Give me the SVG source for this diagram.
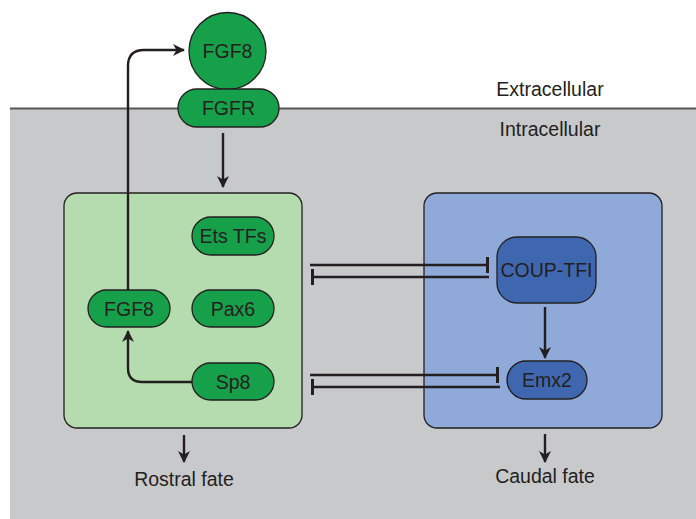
<svg xmlns="http://www.w3.org/2000/svg" width="696" height="519" viewBox="0 0 696 519">
  <defs>
    <style>
      text { font-family: "Liberation Sans", Arial, sans-serif; fill: #231f20; }
      .lbl { font-size: 19.5px; text-anchor: middle; }
      .node { stroke: #231f20; stroke-width: 1.3; }
      .g { fill: #17a04a; }
      .b { fill: #3f67b0; }
      .edge { fill: none; stroke: #231f20; stroke-width: 2.4; }
    </style>
    <marker id="arr" viewBox="0 0 12 12" refX="11" refY="6" markerWidth="12" markerHeight="12" orient="auto" markerUnits="userSpaceOnUse">
      <path d="M0,0 L12,6 L0,12 L3.5,6 Z" fill="#231f20"/>
    </marker>
    <marker id="bar" viewBox="0 0 4 16" refX="2" refY="8" markerWidth="4" markerHeight="16" orient="auto" markerUnits="userSpaceOnUse">
      <rect x="0" y="0" width="3" height="16" fill="#231f20"/>
    </marker>
  </defs>

  <!-- background: extracellular white, intracellular gray -->
  <rect x="0" y="0" width="696" height="519" fill="#ffffff"/>
  <rect x="10" y="108" width="686" height="411" fill="#c8c9cb"/>
  <line x1="10" y1="108.5" x2="696" y2="108.5" stroke="#58585a" stroke-width="2"/>
  <text x="550" y="96" class="lbl">Extracellular</text>
  <text x="550" y="136" class="lbl">Intracellular</text>

  <!-- compartments -->
  <g id="rostral-box">
    <rect x="64" y="193" width="238" height="235" rx="13" fill="#b5dcae" stroke="#231f20" stroke-width="1.3"/>
  </g>
  <g id="caudal-box">
    <rect x="424" y="193" width="238" height="235" rx="13" fill="#8fa9d8" stroke="#231f20" stroke-width="1.3"/>
  </g>

  <!-- connectors -->
  <g id="connectors">
    <line class="edge" x1="223" y1="133" x2="223" y2="187" marker-end="url(#arr)"/>
    <path class="edge" d="M128,292 L128,66 Q128,50 144,50 L184,50" marker-end="url(#arr)"/>
    <path class="edge" d="M192,382 L142,382 Q128,382 128,368 L128,331" marker-end="url(#arr)"/>
    <line class="edge" x1="545" y1="307" x2="545" y2="358" marker-end="url(#arr)"/>
    <line class="edge" x1="184" y1="435" x2="184" y2="462" marker-end="url(#arr)"/>
    <line class="edge" x1="545" y1="434" x2="545" y2="462" marker-end="url(#arr)"/>
    <!-- mutual repression -->
    <line class="edge" x1="310" y1="265" x2="488" y2="265" marker-end="url(#bar)"/>
    <line class="edge" x1="489" y1="277" x2="312" y2="277" marker-end="url(#bar)"/>
    <line class="edge" x1="310" y1="375" x2="498" y2="375" marker-end="url(#bar)"/>
    <line class="edge" x1="500" y1="387" x2="312" y2="387" marker-end="url(#bar)"/>
  </g>

  <!-- nodes -->
  <g id="fgf8-ligand">
    <circle class="node g" cx="227.5" cy="51" r="38.5"/>
    <text x="227.5" y="58" class="lbl">FGF8</text>
  </g>
  <g id="fgfr">
    <rect class="node g" x="178" y="89" width="101" height="38" rx="19"/>
    <text x="228.5" y="115" class="lbl">FGFR</text>
  </g>
  <g id="ets-tfs">
    <rect class="node g" x="192" y="217" width="82" height="38" rx="19"/>
    <text x="233" y="243" class="lbl">Ets TFs</text>
  </g>
  <g id="pax6">
    <rect class="node g" x="192" y="290" width="82" height="37" rx="18.5"/>
    <text x="233" y="315.5" class="lbl">Pax6</text>
  </g>
  <g id="fgf8">
    <rect class="node g" x="88" y="290" width="82" height="37" rx="18.5"/>
    <text x="129" y="315.5" class="lbl">FGF8</text>
  </g>
  <g id="sp8">
    <rect class="node g" x="192" y="363" width="82" height="37" rx="18.5"/>
    <text x="233" y="388.5" class="lbl">Sp8</text>
  </g>
  <g id="coup-tfi">
    <rect class="node b" x="497" y="237" width="99" height="66" rx="20"/>
    <text x="546.5" y="277" class="lbl">COUP-TFI</text>
  </g>
  <g id="emx2">
    <rect class="node b" x="507" y="361" width="80" height="38" rx="19"/>
    <text x="547" y="387" class="lbl">Emx2</text>
  </g>

  <!-- outcomes -->
  <text x="184" y="486" class="lbl">Rostral fate</text>
  <text x="545" y="483" class="lbl">Caudal fate</text>
</svg>
